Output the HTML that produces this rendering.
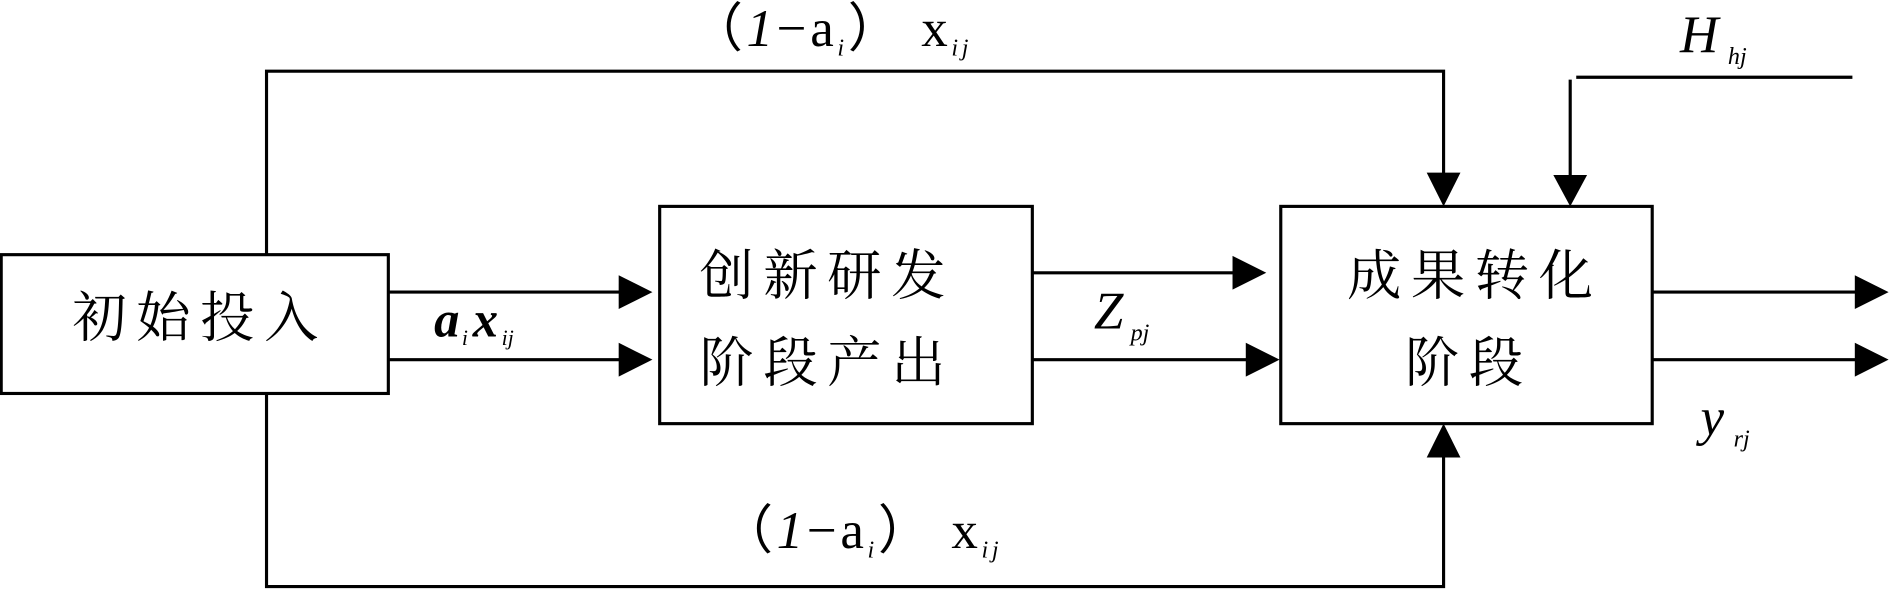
<!DOCTYPE html>
<html><head><meta charset="utf-8"><style>
html,body{margin:0;padding:0;background:#fff;}
svg{display:block;}
.cn{font-family:"Noto Serif CJK SC","Noto Sans CJK SC",serif;font-size:45px;letter-spacing:8px;}
.m{font-family:"Liberation Serif",serif;}
</style></head><body>
<svg width="1891" height="589" viewBox="0 0 1568 488" preserveAspectRatio="none" xmlns="http://www.w3.org/2000/svg">
<g stroke="#000" stroke-width="2.6" fill="none">
<rect x="1" y="211" width="321" height="115"/>
<rect x="547" y="171" width="309" height="180"/>
<rect x="1062" y="171" width="308" height="180"/>
<polyline points="221,211 221,59 1197,59 1197,145"/>
<polyline points="1307,64 1536,64"/>
<polyline points="1302,66 1302,145"/>
<polyline points="221,326 221,486 1197,486 1197,378"/>
<line x1="322" y1="242" x2="515" y2="242"/>
<line x1="322" y1="298" x2="515" y2="298"/>
<line x1="856" y1="226" x2="1024" y2="226"/>
<line x1="856" y1="298" x2="1035" y2="298"/>
<line x1="1370" y1="242" x2="1540" y2="242"/>
<line x1="1370" y1="298" x2="1540" y2="298"/>
</g>
<g fill="#000">
<polygon points="1183,143 1211,143 1197,171"/>
<polygon points="1288,145 1316,145 1302,171"/>
<polygon points="1183,379 1211,379 1197,351"/>
<polygon points="513,228 513,256 541,242"/>
<polygon points="513,284 513,312 541,298"/>
<polygon points="1022,212 1022,240 1050,226"/>
<polygon points="1033,284 1033,312 1061,298"/>
<polygon points="1538,228 1538,256 1566,242"/>
<polygon points="1538,284 1538,312 1566,298"/>
</g>
<g fill="#000">
<text class="cn" x="60" y="279">初始投入</text>
<text class="cn" x="580" y="244">创新研发</text>
<text class="cn" x="580" y="316">阶段产出</text>
<text class="cn" x="1117" y="244">成果转化</text>
<text class="cn" x="1165" y="316">阶段</text>
<text class="m" x="572" y="38" font-size="44" letter-spacing="3">（<tspan font-style="italic">1</tspan>−a<tspan font-size="20" dy="8" font-style="italic">i</tspan><tspan dy="-8">） x</tspan><tspan font-size="20" dy="8" font-style="italic">ij</tspan></text>
<text class="m" x="597" y="454" font-size="44" letter-spacing="3">（<tspan font-style="italic">1</tspan>−a<tspan font-size="20" dy="8" font-style="italic">i</tspan><tspan dy="-8">） x</tspan><tspan font-size="20" dy="8" font-style="italic">ij</tspan></text>
<text class="m" x="360" y="279" font-size="42" font-style="italic" font-weight="bold">a<tspan font-size="18" font-weight="normal" dx="2" dy="7">i</tspan><tspan dy="-7" dx="4">x</tspan><tspan font-size="18" font-weight="normal" dx="3" dy="7">ij</tspan></text>
<text class="m" x="907" y="272" font-size="44" font-style="italic">Z<tspan font-size="20" dx="6" dy="10">pj</tspan></text>
<text class="m" x="1393" y="43" font-size="44" font-style="italic">H<tspan font-size="20" dx="8" dy="10">hj</tspan></text>
<text class="m" x="1410" y="360" font-size="44" font-style="italic">y<tspan font-size="20" dx="8" dy="10">rj</tspan></text>
</g>
</svg>
</body></html>
